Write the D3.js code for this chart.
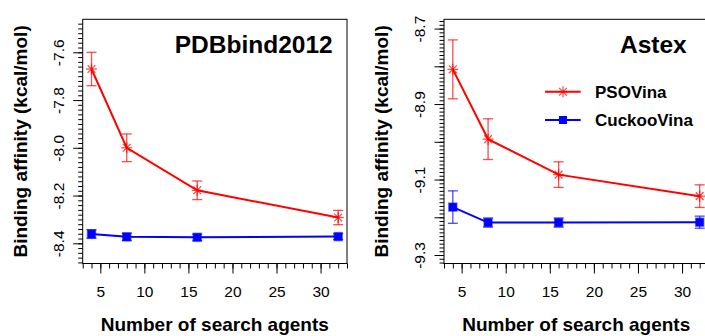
<!DOCTYPE html>
<html>
<head>
<meta charset="utf-8">
<script src="https://cdn.jsdelivr.net/npm/d3@7"></script>
<style>
  html, body { margin: 0; padding: 0; background: #fff; }
  svg { display: block; }
</style>
</head>
<body>
<div id="chart"></div>
<script>
// number of search agents (x)
const agents = [4, 8, 16, 32];

// PDBbind2012 panel
const pdbPso = [-7.67, -8.0, -8.178, -8.292];
const pdbPsoErr = [0.07, 0.058, 0.039, 0.03];
const pdbCuckoo = [-8.361, -8.373, -8.375, -8.372];
const pdbCuckooErr = [0.018, 0.015, 0.013, 0.012];

// Astex panel
const astexPso = [-8.808, -8.993, -9.087, -9.144];
const astexPsoErr = [0.078, 0.054, 0.034, 0.03];
const astexCuckoo = [-9.173, -9.214, -9.214, -9.213];
const astexCuckooErr = [0.043, 0.012, 0.012, 0.016];

// tick labels
const xTicks = [5, 10, 15, 20, 25, 30];
const pdbYTicks = [-7.6, -7.8, -8.0, -8.2, -8.4];
const astexYTicks = [-8.7, -8.8, -8.9, -9.0, -9.1, -9.2, -9.3];
const astexYLabels = [-8.7, -8.9, -9.1, -9.3];

const seriesNames = ['PSOVina', 'CuckooVina'];
const colors = { pso: '#ff0000', cuckoo: '#0000ff' };

const width = 705, height = 336;
const font = "'Liberation Sans', Arial, Helvetica, sans-serif";

const svg = d3.select('#chart').append('svg')
  .attr('width', width)
  .attr('height', height)
  .attr('viewBox', [0, 0, width, height]);

function drawPanel(cfg) {
  const x = d3.scaleLinear().domain([3, 33]).range([cfg.left, cfg.right]);
  const y = d3.scaleLinear().domain(cfg.yDomain).range([cfg.top, cfg.bottom]);
  const g = svg.append('g');

  // minor ticks on x
  const xMinor = d3.range(3, 34, 1);
  g.append('g')
    .attr('transform', `translate(0,${cfg.bottom})`)
    .call(d3.axisBottom(x).tickValues(xMinor).tickSize(5).tickSizeOuter(0).tickFormat(''))
    .call(s => s.select('.domain').remove());
  // major ticks on x
  const xa = g.append('g')
    .attr('transform', `translate(0,${cfg.bottom})`)
    .call(d3.axisBottom(x).tickValues(xTicks).tickSize(10).tickSizeOuter(0).tickFormat(d3.format('d')))
    .call(s => s.select('.domain').remove());
  xa.attr('font-family', font).attr('font-size', 15.5);
  xa.selectAll('text').attr('y', 33.2).attr('dy', 0).attr('fill', '#000');

  // minor ticks on y
  const [y0, y1] = cfg.yDomain;
  const minor = d3.range(Math.ceil(y1 / cfg.minorStep), Math.floor(y0 / cfg.minorStep) + 1)
    .map(k => +(k * cfg.minorStep).toFixed(3));
  g.append('g')
    .attr('transform', `translate(${cfg.left},0)`)
    .call(d3.axisLeft(y).tickValues(minor).tickSize(4.5).tickSizeOuter(0).tickFormat(''))
    .call(s => s.select('.domain').remove());
  // major ticks on y, labels rotated
  const ya = g.append('g')
    .attr('transform', `translate(${cfg.left},0)`)
    .call(d3.axisLeft(y).tickValues(cfg.yTicks).tickSize(9.5).tickSizeOuter(0)
      .tickFormat(d => cfg.yLabels.includes(d) ? d3.format('.1f')(d).replace('−', '-') : ''))
    .call(s => s.select('.domain').remove());
  ya.attr('font-family', font).attr('font-size', 15.5);
  ya.selectAll('text')
    .attr('transform', 'rotate(-90)')
    .attr('x', 0).attr('y', -19.2).attr('dy', 0)
    .attr('text-anchor', 'middle')
    .attr('fill', '#000');

  // box
  g.append('rect')
    .attr('x', cfg.left).attr('y', cfg.top)
    .attr('width', cfg.right - cfg.left).attr('height', cfg.bottom - cfg.top)
    .attr('fill', 'none').attr('stroke', '#000').attr('stroke-width', 1);

  const plot = g.append('g');

  function series(vals, errs, color, marker) {
    const pts = agents.map((a, i) => ({ a, v: vals[i], e: errs[i] }));
    // error bars
    const eb = plot.append('g').attr('stroke', color).attr('stroke-opacity', 0.7).attr('stroke-width', 1.3);
    pts.forEach(p => {
      const cx = x(p.a), t = y(p.v + p.e), b = y(p.v - p.e);
      eb.append('line').attr('x1', cx).attr('x2', cx).attr('y1', t).attr('y2', b);
      eb.append('line').attr('x1', cx - 5).attr('x2', cx + 5).attr('y1', t).attr('y2', t);
      eb.append('line').attr('x1', cx - 5).attr('x2', cx + 5).attr('y1', b).attr('y2', b);
    });
    plot.append('path')
      .datum(pts)
      .attr('fill', 'none')
      .attr('stroke', color)
      .attr('stroke-width', 2)
      .attr('d', d3.line().x(d => x(d.a)).y(d => y(d.v)));
    pts.forEach(p => marker(plot, x(p.a), y(p.v), color));
  }

  series(cfg.pso, cfg.psoErr, colors.pso, asterisk);
  series(cfg.cuckoo, cfg.cuckooErr, colors.cuckoo, square);

  // panel title
  g.append('text')
    .attr('x', cfg.titleX).attr('y', 53)
    .attr('text-anchor', 'end')
    .attr('font-family', font).attr('font-weight', 'bold').attr('font-size', 24.5)
    .text(cfg.title);

  // axis titles
  g.append('text')
    .attr('transform', `translate(${cfg.left - 56},${(cfg.top + cfg.bottom) / 2}) rotate(-90)`)
    .attr('text-anchor', 'middle')
    .attr('font-family', font).attr('font-weight', 'bold').attr('font-size', 19)
    .text('Binding affinity (kcal/mol)');
  g.append('text')
    .attr('x', (cfg.left + cfg.right) / 2).attr('y', 331)
    .attr('text-anchor', 'middle')
    .attr('font-family', font).attr('font-weight', 'bold').attr('font-size', 19)
    .text('Number of search agents');
}

function asterisk(sel, cx, cy, color) {
  const r = 5.5, d = 3.9;
  const m = sel.append('g').attr('stroke', color).attr('stroke-opacity', 0.75).attr('stroke-width', 1.2);
  m.append('line').attr('x1', cx - r).attr('x2', cx + r).attr('y1', cy).attr('y2', cy);
  m.append('line').attr('x1', cx).attr('x2', cx).attr('y1', cy - r).attr('y2', cy + r);
  m.append('line').attr('x1', cx - d).attr('x2', cx + d).attr('y1', cy - d).attr('y2', cy + d);
  m.append('line').attr('x1', cx - d).attr('x2', cx + d).attr('y1', cy + d).attr('y2', cy - d);
}

function square(sel, cx, cy, color) {
  sel.append('rect')
    .attr('x', cx - 4).attr('y', cy - 4).attr('width', 8).attr('height', 8)
    .attr('fill', color)
    .attr('stroke', color).attr('stroke-opacity', 0.5).attr('stroke-width', 1.5);
}

drawPanel({
  title: 'PDBbind2012', titleX: 332.7,
  left: 82.7, right: 347, top: 19.3, bottom: 263.5,
  yDomain: [-7.4618, -8.4846], yTicks: pdbYTicks, yLabels: pdbYTicks, minorStep: 0.02,
  pso: pdbPso, psoErr: pdbPsoErr, cuckoo: pdbCuckoo, cuckooErr: pdbCuckooErr
});

drawPanel({
  title: 'Astex', titleX: 686.7,
  left: 444, right: 708.5, top: 19.3, bottom: 263.5,
  yDomain: [-8.6754, -9.3225], yTicks: astexYTicks, yLabels: astexYLabels, minorStep: 0.01,
  pso: astexPso, psoErr: astexPsoErr, cuckoo: astexCuckoo, cuckooErr: astexCuckooErr
});

// legend (Astex panel)
const legend = svg.append('g');
const legendRows = [
  { name: seriesNames[0], color: colors.pso, marker: asterisk, y: 91.7 },
  { name: seriesNames[1], color: colors.cuckoo, marker: square, y: 120 }
];
legendRows.forEach(r => {
  legend.append('line')
    .attr('x1', 545).attr('x2', 580.7).attr('y1', r.y).attr('y2', r.y)
    .attr('stroke', r.color).attr('stroke-width', 2);
  if (r.marker === square) {
    legend.append('rect').attr('x', 563 - 4).attr('y', r.y - 4).attr('width', 8).attr('height', 8).attr('fill', r.color);
  } else {
    r.marker(legend, 563, r.y, r.color);
  }
  legend.append('text')
    .attr('x', 595).attr('y', r.y + 6.1)
    .attr('font-family', font).attr('font-weight', 'bold').attr('font-size', 17)
    .text(r.name);
});
</script>
</body>
</html>
